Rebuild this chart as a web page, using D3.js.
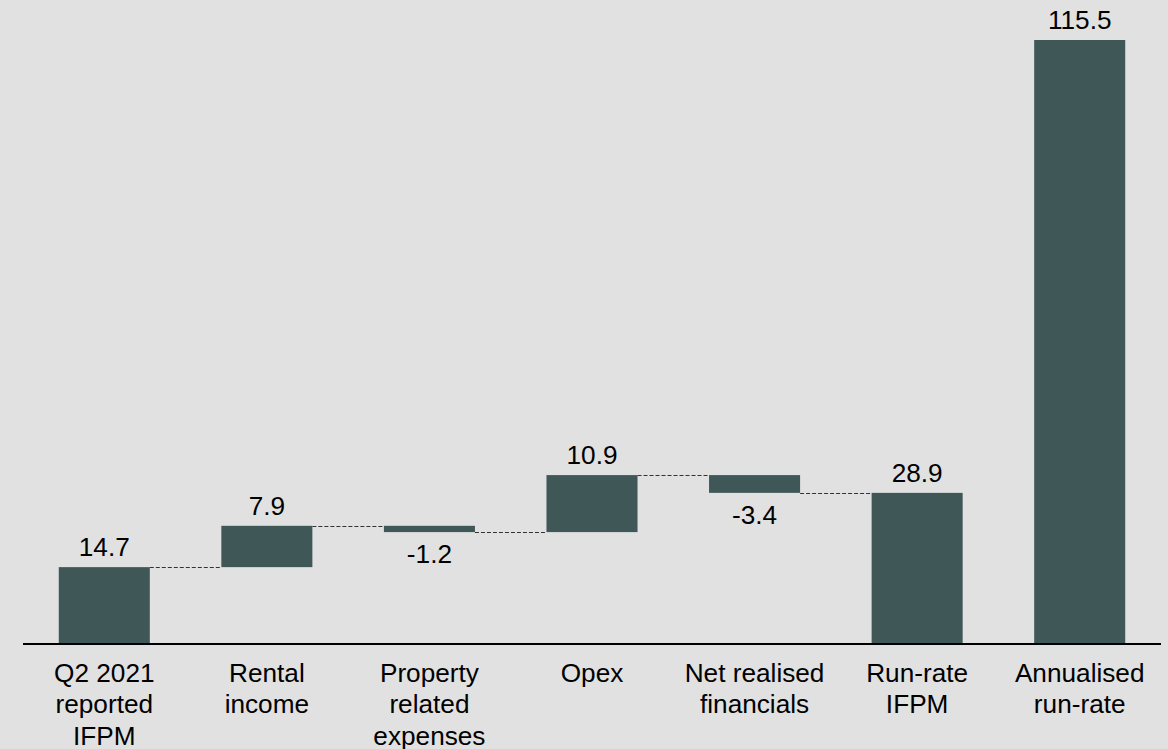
<!DOCTYPE html>
<html>
<head>
<meta charset="utf-8">
<script src="https://cdn.jsdelivr.net/npm/d3@7"></script>
<style>
  html, body { margin: 0; padding: 0; background: #e1e1e2; }
  svg { display: block; font-family: "Liberation Sans", Arial, sans-serif; }
</style>
</head>
<body>
<svg id="chart" width="1168" height="749"></svg>
<script>
// Bridge from reported to run-rate IFPM (EUR m)
const categories = [
  ["Q2 2021", "reported", "IFPM"],
  ["Rental", "income"],
  ["Property", "related", "expenses"],
  ["Opex"],
  ["Net realised", "financials"],
  ["Run-rate", "IFPM"],
  ["Annualised", "run-rate"]
];
const values = [14.7, 7.9, -1.2, 10.9, -3.4, 28.9, 115.5];
const kinds = ["total", "delta", "delta", "delta", "delta", "total", "total"];
const valueLabels = ["14.7", "7.9", "-1.2", "10.9", "-3.4", "28.9", "115.5"];

const W = 1168, H = 749;
const margin = { left: 23, right: 7, top: 40, baseline: 644 };
const fontSize = "26.2px";

// Build floating segments: totals start at zero, deltas start at the running sum
let running = 0;
const segs = values.map((v, i) => {
  let y0, y1;
  if (kinds[i] === "total") { y0 = 0; y1 = v; running = v; }
  else { y0 = running; y1 = running + v; running = y1; }
  return { i, v, y0, y1, label: valueLabels[i], cat: categories[i] };
});

const svg = d3.select("#chart");

const x = d3.scaleBand()
  .domain(d3.range(categories.length))
  .range([margin.left, W - margin.right])
  .paddingInner(0.44)
  .paddingOuter(0.22);

const y = d3.scaleLinear()
  .domain([0, 115.5])
  .range([margin.baseline, margin.top]);

const barColor = "#3f5757";

// connectors between consecutive bridge steps
const links = segs.slice(0, 5).map(s => ({ from: s.i, level: s.y1 }));
svg.append("g").selectAll("line")
  .data(links)
  .join("line")
  .attr("x1", d => x(d.from) + x.bandwidth())
  .attr("x2", d => x(d.from + 1))
  .attr("y1", d => Math.round(y(d.level)) + 0.5)
  .attr("y2", d => Math.round(y(d.level)) + 0.5)
  .attr("stroke", "#333")
  .attr("stroke-width", 1)
  .attr("stroke-dasharray", "4,2");

// bars
svg.append("g").selectAll("rect")
  .data(segs)
  .join("rect")
  .attr("x", d => x(d.i))
  .attr("width", x.bandwidth())
  .attr("y", d => y(Math.max(d.y0, d.y1)))
  .attr("height", d => Math.abs(y(d.y0) - y(d.y1)))
  .attr("fill", barColor);

// value labels: above positive steps, below negative ones
svg.append("g").selectAll("text")
  .data(segs)
  .join("text")
  .attr("x", d => x(d.i) + x.bandwidth() / 2)
  .attr("y", d => d.v >= 0 ? y(d.y1) - 11 : y(d.y1) + 31)
  .attr("text-anchor", "middle")
  .attr("font-size", fontSize)
  .attr("fill", "#000")
  .text(d => d.label);

// baseline
svg.append("line")
  .attr("x1", margin.left).attr("x2", W - margin.right)
  .attr("y1", y(0)).attr("y2", y(0))
  .attr("stroke", "#000").attr("stroke-width", 2);

// category labels
const cat = svg.append("g").selectAll("text")
  .data(segs)
  .join("text")
  .attr("x", d => x(d.i) + x.bandwidth() / 2)
  .attr("y", 682)
  .attr("text-anchor", "middle")
  .attr("font-size", fontSize)
  .attr("fill", "#000");
cat.selectAll("tspan")
  .data(d => d.cat.map((t, k) => ({ t, k, cx: x(d.i) + x.bandwidth() / 2 })))
  .join("tspan")
  .attr("x", d => d.cx)
  .attr("dy", d => d.k === 0 ? 0 : 31.3)
  .text(d => d.t);
</script>
</body>
</html>
